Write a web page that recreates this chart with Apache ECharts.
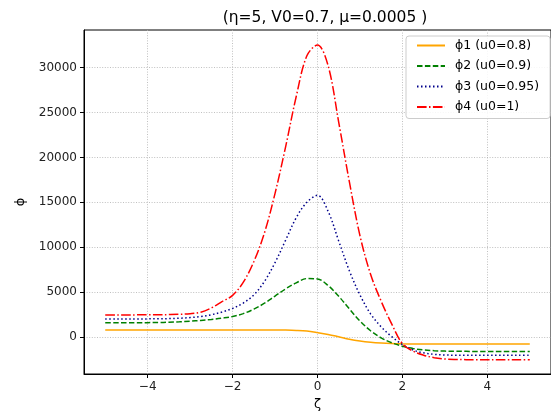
<!DOCTYPE html>
<html>
<head>
<meta charset="utf-8">
<script src="https://cdn.jsdelivr.net/npm/echarts@6/dist/echarts.min.js"></script>
<style>html,body{margin:0;padding:0;background:#fff;}#c{width:551px;height:416px;}</style>
</head>
<body>
<div id="c"></div>
<script>
var zeta = [-5,-4.75,-4.5,-4.25,-4,-3.75,-3.5,-3.25,-3,-2.75,-2.5,-2.25,-2,-1.75,-1.5,-1.25,-1,-0.75,-0.5,-0.25,0,0.25,0.5,0.75,1,1.25,1.5,1.75,2,2.25,2.5,2.75,3,3.25,3.5,3.75,4,4.25,4.5,4.75,5];
var phi1 = [810,810,810,810,810,810,810,810,810,810,810,810,810,810,810,808,803,790,755,680,510,310,50,-220,-420,-560,-650,-705,-735,-750,-758,-760,-760,-760,-760,-760,-760,-760,-760,-760,-760];
var phi2 = [1600,1600,1605,1610,1620,1640,1660,1710,1780,1870,1980,2120,2300,2620,3120,3780,4580,5380,6050,6520,6480,5750,4550,3150,1800,720,-80,-620,-1000,-1260,-1420,-1500,-1545,-1565,-1575,-1580,-1580,-1580,-1580,-1580,-1580];
var phi3 = [2020,2020,2025,2030,2040,2050,2070,2110,2180,2300,2500,2800,3200,3800,4700,6200,8300,10800,13300,15000,15780,14000,10700,7400,4700,2600,1150,60,-820,-1420,-1740,-1900,-1975,-2005,-2015,-2020,-2020,-2020,-2020,-2020,-2020];
var phi4 = [2480,2480,2480,2485,2490,2500,2515,2545,2610,2780,3250,3950,4650,6100,8400,11600,16000,21200,26800,31300,32500,30200,23900,17300,11300,7000,4000,1450,-720,-1550,-2000,-2280,-2420,-2475,-2495,-2500,-2500,-2500,-2500,-2500,-2500];
var seriesNames = ['\u03d51 (u0=0.8)','\u03d52 (u0=0.9)','\u03d53 (u0=0.95)','\u03d54 (u0=1)'];
var xTicks = [-4,-2,0,2,4];
var yTicks = [0,5000,10000,15000,20000,25000,30000];
var titleText = '(\u03b7=5, V0=0.7, \u03bc=0.0005 )';

function pairs(ys){ return zeta.map(function(x,i){ return [x, ys[i]]; }); }
var FONT = 'DejaVu Sans';
var colors = ['#FFA500','#008000','#00008B','#FF0000'];
var dashes = ['solid',[5.5,2.4],[1.5,2.5],[9.6,2.4,1.5,2.4]];
var all = [phi1,phi2,phi3,phi4];
var series = all.map(function(d,i){
  return {
    name: seriesNames[i], type:'line', data: pairs(d), smooth: 0.35,
    symbol:'none', showSymbol:false,
    lineStyle:{color:colors[i], width:1.5, type:dashes[i]},
    itemStyle:{color:colors[i]}, z: 2+i
  };
});
var fmt = function(v){ return String(v).replace('-', '\u2212'); };
var chart = echarts.init(document.getElementById('c'), null, {renderer:'canvas'});
chart.setOption({
  animation:false,
  backgroundColor:'#fff',
  textStyle:{fontFamily:FONT},
  title:{text:titleText, left:320, top:5, textAlign:'center',
    textStyle:{fontFamily:FONT, fontSize:15.5, fontWeight:'normal', color:'#000'}},
  grid:{left:84, top:30, width:471.5, height:346, show:true, borderColor:'#000', borderWidth:1, backgroundColor:'transparent'},
  legend:{
    orient:'vertical', left:406, top:36,
    padding:[3,11,5,10], itemGap:7.5, itemWidth:28, itemHeight:14,
    backgroundColor:'rgba(255,255,255,0.85)', borderColor:'#cccccc', borderWidth:1, borderRadius:3,
    itemStyle:{opacity:0},
    textStyle:{fontFamily:FONT, fontSize:12.5, color:'#000', padding:[0,0,0,5]},
    data: seriesNames
  },
  xAxis:{
    type:'value', min:-5.5, max:5.5,
    name:'\u03b6', nameLocation:'middle', nameGap:24,
    nameTextStyle:{fontFamily:FONT, fontSize:13, color:'#000'},
    axisLine:{show:true, onZero:false, lineStyle:{color:'#000', width:1}},
    axisTick:{show:true, inside:false, length:4, customValues:xTicks, lineStyle:{color:'#000'}},
    axisLabel:{customValues:xTicks, formatter:fmt, fontFamily:FONT, fontSize:12, color:'#222', margin:7},
    splitLine:{show:true, lineStyle:{color:'#b0b0b0', width:0.8, type:[1,1.6]}}
  },
  yAxis:{
    type:'value', min:-4092, max:34170,
    name:'\u03d5', nameLocation:'middle', nameGap:57, nameRotate:90,
    nameTextStyle:{fontFamily:FONT, fontSize:13, color:'#000'},
    axisLine:{show:true, onZero:false, lineStyle:{color:'#000', width:1}},
    axisTick:{show:true, inside:false, length:4, customValues:yTicks, lineStyle:{color:'#000'}},
    axisLabel:{customValues:yTicks, formatter:fmt, fontFamily:FONT, fontSize:12, color:'#222', margin:7},
    splitLine:{show:true, lineStyle:{color:'#b0b0b0', width:0.8, type:[1,1.6]}}
  },
  series: series
});
</script>
</body>
</html>
